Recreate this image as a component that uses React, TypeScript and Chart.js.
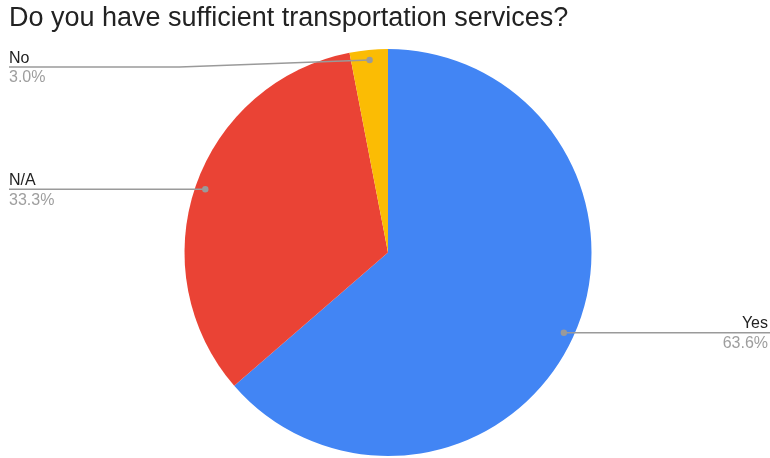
import React, { useEffect, useRef } from "react";
import { Chart, registerables } from "chart.js";

Chart.register(...registerables);

const TITLE = "Do you have sufficient transportation services?";
const categories = ["Yes", "N/A", "No"];
const counts = [21, 11, 1];
const colors = ["#4285F4", "#EA4335", "#FBBC04"];

const FONT = "Arial, 'Liberation Sans', sans-serif";

const leaderPlugin = {
  id: "leaderLabels",
  afterDatasetsDraw(chart: any) {
    const ctx = chart.ctx;
    const meta = chart.getDatasetMeta(0);
    const data = chart.data.datasets[0].data as number[];
    const total = data.reduce((a, b) => a + b, 0);
    const area = chart.chartArea;
    const W = chart.width;
    ctx.save();
    meta.data.forEach((arc: any, i: number) => {
      const p = arc.getProps(["x", "y", "startAngle", "endAngle", "outerRadius"], true);
      const mid = (p.startAngle + p.endAngle) / 2;
      const r = p.outerRadius * 0.95;
      const dx = p.x + Math.cos(mid) * r;
      const dy = p.y + Math.sin(mid) * r;
      const left = dx < p.x;
      const ly = Math.max(dy, area.top + 18);
      ctx.strokeStyle = "#9a9a9a";
      ctx.lineWidth = 1.5;
      ctx.beginPath();
      if (left) {
        const endX = area.left;
        if (Math.abs(ly - dy) > 0.5) {
          const bendX = p.x - p.outerRadius - 5;
          ctx.moveTo(dx, dy);
          ctx.lineTo(bendX, ly);
          ctx.lineTo(endX, ly);
        } else {
          ctx.moveTo(dx, dy);
          ctx.lineTo(endX, ly);
        }
      } else {
        ctx.moveTo(dx, dy);
        ctx.lineTo(W, ly);
      }
      ctx.stroke();
      ctx.fillStyle = "#9a9a9a";
      ctx.beginPath();
      ctx.arc(dx, dy, 3.2, 0, Math.PI * 2);
      ctx.fill();

      const pct = ((data[i] / total) * 100).toFixed(1) + "%";
      const tx = left ? area.left : W - 2;
      ctx.textAlign = left ? "left" : "right";
      ctx.font = `16px ${FONT}`;
      ctx.textBaseline = "alphabetic";
      ctx.fillStyle = "#222222";
      ctx.fillText(chart.data.labels[i], tx, ly - 4.5);
      ctx.textBaseline = "top";
      ctx.fillStyle = "#9e9e9e";
      ctx.fillText(pct, tx, ly + 3);
    });
    ctx.restore();
  },
};

export default function App() {
  const ref = useRef<HTMLCanvasElement>(null);
  useEffect(() => {
    document.body.style.margin = "0";
    const chart = new Chart(ref.current!, {
      type: "pie",
      data: {
        labels: categories,
        datasets: [
          {
            data: counts,
            backgroundColor: colors,
            borderWidth: 0,
            hoverOffset: 0,
          },
        ],
      },
      options: {
        animation: false,
        responsive: false,
        layout: { padding: { left: 9, right: 3, top: 0, bottom: 2 } },
        plugins: {
          legend: { display: false },
          tooltip: { enabled: false },
          title: {
            display: true,
            text: TITLE,
            align: "start",
            color: "#222222",
            font: { family: FONT, size: 27, weight: "normal", lineHeight: 1.2 },
            padding: { top: 2, bottom: 14.6 },
          },
        },
      },
      plugins: [leaderPlugin],
    });
    return () => chart.destroy();
  }, []);
  return (
    <div style={{ width: 770, height: 458, background: "#fff" }}>
      <canvas ref={ref} width={770} height={458} />
    </div>
  );
}
